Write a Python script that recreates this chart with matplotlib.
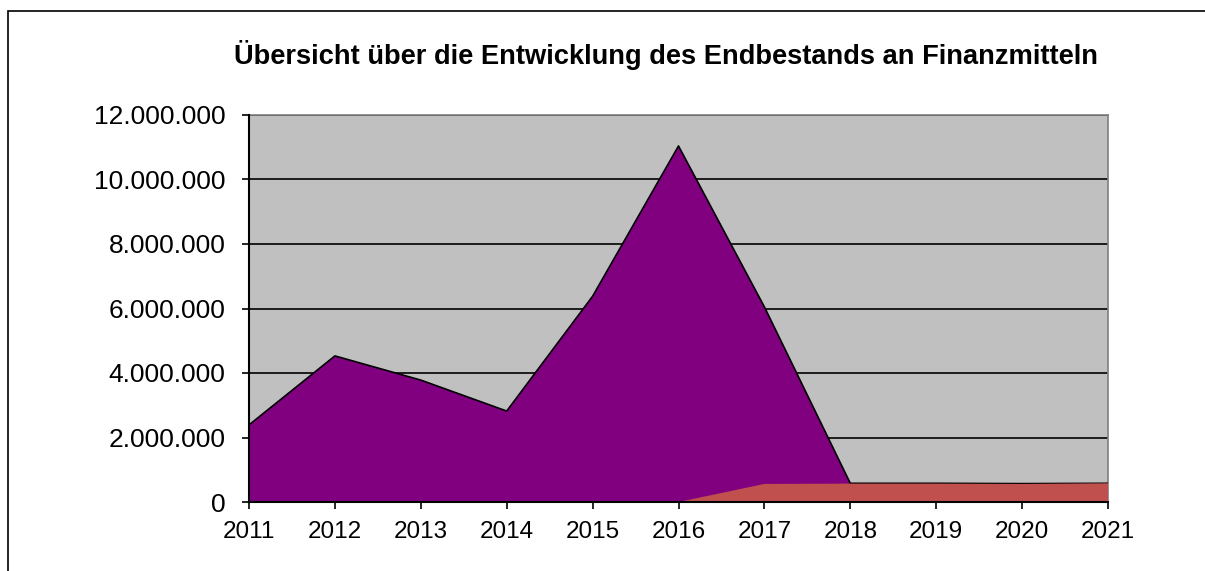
import numpy as np
import matplotlib.pyplot as plt
from matplotlib.patches import Rectangle
from matplotlib.ticker import FuncFormatter

plt.rcParams['font.family'] = ['Liberation Sans', 'DejaVu Sans']

# data
years = [2011, 2012, 2013, 2014, 2015, 2016, 2017, 2018, 2019, 2020, 2021]
endbestand = [2390000, 4530000, 3780000, 2820000, 6380000, 11040000,
              6050000, 580000, 580000, 570000, 580000]
rest = [0, 0, 0, 0, 0, 0, 560000, 570000, 570000, 560000, 580000]

yticks = [0, 2000000, 4000000, 6000000, 8000000, 10000000, 12000000]
title = 'Übersicht über die Entwicklung des Endbestands an Finanzmitteln'


def dotted(v, pos):
    return '{:,.0f}'.format(v).replace(',', '.')


fig = plt.figure(figsize=(12.05, 5.71), dpi=100)

# outer chart border (only left and top edge visible in the reference)
fig.patches.append(Rectangle((8 / 1205, -0.1), 1.2, 1.1 - 11 / 571,
                             transform=fig.transFigure, fill=False,
                             edgecolor='black', linewidth=1.2))

ax = fig.add_axes([249 / 1205, 1 - 502 / 571, (1108 - 249) / 1205, (502 - 115) / 571])
ax.set_facecolor('#C0C0C0')

ax.fill_between(years, endbestand, 0, facecolor='#800080', edgecolor='none', zorder=2)
ax.plot(years, endbestand, color='black', linewidth=1.2, zorder=3)
ax.fill_between(years, rest, 0, facecolor='#C0504D', edgecolor='none', zorder=4)

ax.set_xlim(years[0], years[-1])
ax.set_ylim(0, 12000000)
ax.set_xticks(years)
ax.set_yticks(yticks)
ax.yaxis.set_major_formatter(FuncFormatter(dotted))
ax.grid(axis='y', color='black', linewidth=1.2, zorder=1)
ax.set_axisbelow(True)

for s in ['top', 'right']:
    ax.spines[s].set_color('#808080')
    ax.spines[s].set_linewidth(1.2)
for s in ['left', 'bottom']:
    ax.spines[s].set_color('black')
    ax.spines[s].set_linewidth(1.5)
    ax.spines[s].set_zorder(6)

ax.tick_params(axis='both', direction='out', length=5, width=1.2, colors='black')
ax.tick_params(axis='y', labelsize=19, pad=12)
ax.tick_params(axis='x', labelsize=17.5, pad=9)

fig.text(666 / 1205, 1 - 55 / 571, title, ha='center', va='center',
         fontsize=19.6, fontweight='bold')

fig.savefig('out.png', dpi=100)
